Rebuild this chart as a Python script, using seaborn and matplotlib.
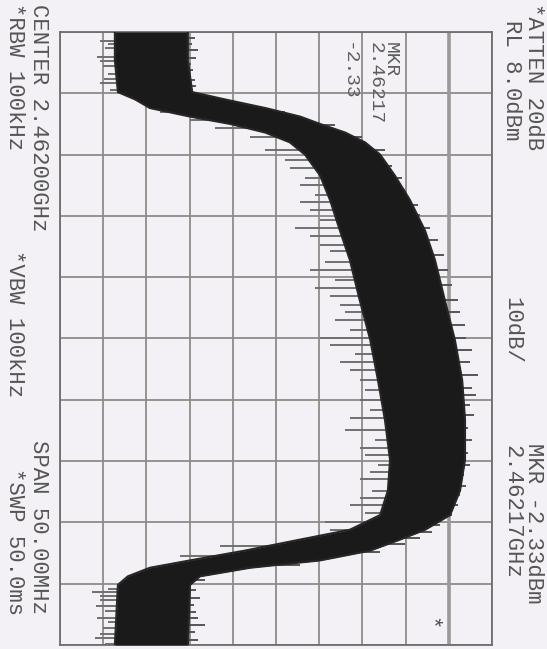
import numpy as np
import pandas as pd
import matplotlib
matplotlib.use("Agg")
import matplotlib.pyplot as plt
import seaborn as sns

# ---- data (frequency in MHz, amplitude in dBm) ----
ref_level = 8.0
db_per_div = 10
n_div = 10
center_mhz = 2462.0
span_mhz = 50.0

env_freq = [2437.0, 2439.3, 2441.9, 2442.5, 2443.2, 2443.9, 2444.5, 2445.2, 2446.0,
            2447.0, 2448.7, 2450.7, 2453.2, 2455.6, 2458.9, 2462.1, 2465.4, 2468.6,
            2471.9, 2474.4, 2476.4, 2477.6, 2478.4, 2479.3, 2480.1, 2480.7, 2481.4,
            2482.1, 2487.0]
env_low = [-79.3, -79.3, -78.6, -74.6, -71.2, -61.9, -52.6, -44.5, -38.8,
           -35.3, -31.8, -29.5, -27.2, -24.9, -22.6, -20.2, -18.4, -16.8,
           -15.6, -16.1, -17.9, -24.9, -36.4, -49.2, -61.9, -71.2, -76.3,
           -78.6, -79.3]
env_high = [-62.4, -62.4, -61.4, -53.8, -44.5, -36.4, -31.8, -26.0, -21.4,
            -17.9, -14.5, -11.0, -7.5, -5.2, -2.9, -0.6, 1.1, 1.75,
            1.75, 0.6, -1.7, -7.5, -13.3, -20.2, -31.8, -48.0, -59.6,
            -61.9, -62.4]

dip_freq = [2437.7, 2438.0, 2438.3, 2439.0, 2439.4, 2439.8, 2440.4, 2440.8, 2441.2, 2441.7,
            2443.5, 2444.2, 2444.8, 2445.6, 2446.6, 2447.4, 2448.1, 2448.9, 2449.5,
            2450.3, 2450.9, 2451.5, 2452.3, 2453.0, 2453.6, 2454.4, 2454.9, 2455.8,
            2456.4, 2457.2, 2457.9, 2458.5, 2459.3, 2459.8, 2460.5, 2461.3, 2462.0,
            2462.5, 2463.3, 2463.9, 2464.6, 2465.4, 2466.2, 2467.0, 2467.8, 2468.5,
            2469.5, 2470.3, 2470.9, 2471.5, 2472.3, 2472.9, 2473.5, 2474.4, 2475.0,
            2475.6, 2476.2, 2477.0, 2477.6, 2478.9, 2479.7,
            2482.4, 2482.7, 2483.0, 2483.3, 2483.8, 2484.2, 2484.8, 2485.1, 2485.6,
            2486.1, 2486.4, 2486.9]
dip_amp = [-82.7, -80.9, -81.6, -83.4, -82.7, -82.0, -80.9, -81.9, -82.7, -80.4,
           -68.9, -61.9, -56.1, -48.0, -44.5, -39.9, -38.8, -35.3, -36.4,
           -33.0, -36.4, -34.1, -31.8, -37.6, -34.1, -31.8, -29.5, -30.7,
           -34.1, -28.3, -33.0, -29.5, -27.2, -26.0, -28.3, -24.9, -31.8,
           -29.5, -23.7, -27.2, -24.9, -22.6, -21.4, -22.6, -20.2, -24.9,
           -26.0, -19.1, -22.6, -21.4, -18.4, -20.2, -22.6, -19.8, -22.6,
           -24.9, -21.4, -30.7, -29.5, -55.0, -64.2,
           -80.9, -84.6, -82.7, -82.7, -83.7, -81.6, -83.4, -80.9, -82.0,
           -82.7, -83.9, -81.6]

peak_freq = [2437.5, 2438.0, 2438.5, 2439.1, 2439.6, 2440.1, 2440.9, 2441.4,
             2442.9, 2443.5, 2444.6, 2445.6, 2446.6, 2447.9, 2448.9, 2449.9, 2451.1,
             2451.9, 2453.0, 2454.0, 2455.2, 2456.4, 2457.6, 2458.9, 2459.8, 2460.9,
             2462.0, 2462.9, 2463.9, 2465.0, 2466.0, 2466.6, 2467.4, 2468.2, 2469.3,
             2470.3, 2471.3, 2472.3, 2473.1, 2474.0, 2474.8, 2475.6, 2476.4, 2477.2,
             2477.8, 2478.3, 2478.8, 2479.4, 2480.5, 2481.7,
             2482.5, 2483.2, 2483.7, 2484.3, 2484.8, 2485.4, 2485.9, 2486.6]
peak_amp = [-60.8, -61.4, -60.1, -60.5, -61.7, -61.2, -60.8, -60.5,
            -49.2, -39.9, -28.3, -22.1, -16.8, -15.1, -12.8, -12.1, -9.1,
            -8.7, -6.4, -4.5, -3.1, -2.2, -1.3, 0.1, 0.6, 1.75,
            2.0, 3.4, 2.9, 4.8, 3.4, 4.3, 2.9, 3.8, 2.4,
            3.4, 2.4, 2.9, 1.5, 2.0, 0.6, 0.1, -1.3, -4.0,
            -5.9, -8.7, -12.1, -17.9, -36.4, -58.4,
            -60.5, -59.6, -61.0, -60.5, -60.1, -58.4, -60.8, -60.1]

marker_freq = 2462.17
marker_amp = -2.33

# ---- figure ----
sns.set_theme(style="white")
plt.rcParams['font.family'] = ['Liberation Mono', 'DejaVu Sans Mono']

W, H = 547, 649
bg = '#f3f1f6'
fig = plt.figure(figsize=(W / 100, H / 100), dpi=100, facecolor=bg)
ax = fig.add_axes([60 / W, 1 - 645 / H, 432 / W, 613 / H], facecolor=bg)

lo_x = ref_level - db_per_div * n_div
ax.set_xlim(lo_x, ref_level)
ax.set_ylim(center_mhz + span_mhz / 2, center_mhz - span_mhz / 2)
ax.set_xticks(np.linspace(lo_x, ref_level, n_div + 1))
ax.set_yticks(np.linspace(center_mhz - span_mhz / 2, center_mhz + span_mhz / 2, n_div + 1))
ax.tick_params(length=0, labelbottom=False, labelleft=False)
ax.grid(True, color='#8c8c88', lw=1.3)
ax.set_axisbelow(True)
for s in ax.spines.values():
    s.set_color('#6e6e6e')
    s.set_linewidth(1.3)
ax.axvline(ref_level - db_per_div, color='#9a9a9a', lw=2.6, zorder=0.9)

# marker readout inside the graticule (below the trace)
txt_kw = dict(rotation=-90, ha='center', va='top', color='#5c5c5c', fontsize=14,
              zorder=1, transform=fig.transFigure)
ax.text(383 / W, 1 - 42 / H, "MKR\n2.46217", multialignment='left',
        linespacing=0.86, **txt_kw)
ax.text(348 / W, 1 - 42 / H, "-2.33", **txt_kw)

# trace band
df = pd.DataFrame({'freq': env_freq, 'low': env_low, 'high': env_high})
ax.fill_betweenx(df['freq'], df['low'], df['high'], color='#1a1a1a', lw=0, zorder=3)
sns.lineplot(data=df, x='low', y='freq', orient='y', color='#262626', lw=1.5, ax=ax, zorder=3)
sns.lineplot(data=df, x='high', y='freq', orient='y', color='#262626', lw=1.5, ax=ax, zorder=3)

mid = (np.array(env_low) + np.array(env_high)) / 2
dip_start = np.interp(dip_freq, env_freq, mid)
peak_start = np.interp(peak_freq, env_freq, mid)
ax.hlines(dip_freq, dip_amp, dip_start, color='#707070', lw=1.4, zorder=2.5)
ax.hlines(peak_freq, peak_start, peak_amp, color='#555555', lw=1.4, zorder=2.5)

ax.set_xlabel('')
ax.set_ylabel('')
if ax.get_legend():
    ax.get_legend().remove()

# annotations around the screen
tk = dict(rotation=-90, ha='center', va='top', color='#555555', fontsize=16)
fig.text(533 / W, 1 - 3 / H, "*ATTEN 20dB", **tk)
fig.text(512 / W, 1 - 20 / H, "RL 8.0dBm", **tk)
fig.text(512 / W, 1 - 297 / H, "10dB/", **tk)
fig.text(533 / W, 1 - 443 / H, "MKR -2.33dBm", **tk)
fig.text(512 / W, 1 - 445 / H, "2.46217GHz", **tk)
fig.text(38 / W, 1 - 4 / H, "CENTER 2.46200GHz", **tk)
fig.text(14 / W, 1 - 3 / H, "*RBW 100kHz", **tk)
fig.text(14 / W, 1 - 250 / H, "*VBW 100kHz", **tk)
fig.text(38 / W, 1 - 440 / H, "SPAN 50.00MHz", **tk)
fig.text(14 / W, 1 - 468 / H, "*SWP 50.0ms", **tk)
fig.text(430 / W, 1 - 617 / H, "*", **tk)

fig.savefig("out.png", dpi=100, facecolor=bg)
